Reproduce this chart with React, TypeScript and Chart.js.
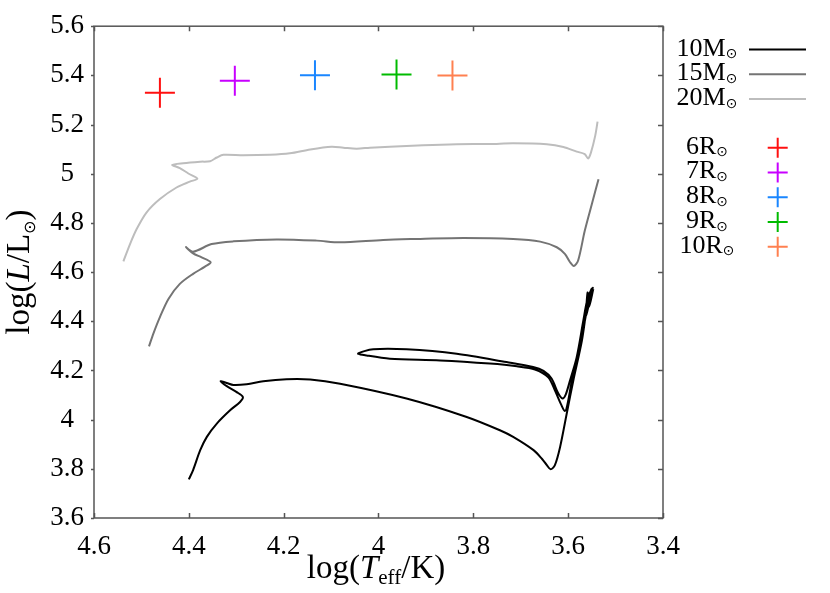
import React, { useEffect, useRef } from 'react';
import { Chart, registerables } from 'chart.js';

Chart.register(...registerables);

// ---- data (log Teff, log L) ----
const track10LogT = [4.400, 4.391, 4.376, 4.362, 4.341, 4.313, 4.292, 4.286, 4.299, 4.320, 4.333, 4.320, 4.306, 4.278, 4.243, 4.194, 4.144, 4.081, 3.941, 3.814, 3.744, 3.716, 3.673, 3.655, 3.645, 3.637, 3.628, 3.617, 3.603, 3.589, 3.571, 3.558, 3.548, 3.556, 3.562, 3.575, 3.592, 3.602, 3.607, 3.615, 3.628, 3.642, 3.670, 3.708, 3.765, 3.870, 3.976, 4.025, 4.043, 4.011, 3.941, 3.835, 3.730, 3.674, 3.652, 3.635, 3.621, 3.612, 3.605, 3.596, 3.582, 3.568, 3.560, 3.550, 3.562, 3.559, 3.556, 3.547];
const track10LogL = [3.757, 3.795, 3.876, 3.930, 3.984, 4.038, 4.072, 4.092, 4.112, 4.136, 4.156, 4.149, 4.141, 4.144, 4.156, 4.164, 4.163, 4.146, 4.086, 4.011, 3.957, 3.930, 3.876, 3.840, 3.815, 3.798, 3.815, 3.889, 4.025, 4.160, 4.322, 4.484, 4.536, 4.501, 4.430, 4.302, 4.160, 4.058, 4.035, 4.062, 4.119, 4.172, 4.204, 4.217, 4.228, 4.241, 4.248, 4.261, 4.269, 4.286, 4.286, 4.268, 4.234, 4.214, 4.198, 4.167, 4.107, 4.086, 4.103, 4.160, 4.254, 4.403, 4.484, 4.533, 4.424, 4.517, 4.460, 4.531];

const track15LogT = [4.484, 4.475, 4.461, 4.443, 4.419, 4.391, 4.366, 4.354, 4.373, 4.391, 4.406, 4.391, 4.352, 4.306, 4.215, 4.130, 4.081, 3.990, 3.912, 3.821, 3.716, 3.659, 3.624, 3.607, 3.596, 3.588, 3.579, 3.565, 3.550, 3.536];
const track15LogL = [4.298, 4.349, 4.417, 4.491, 4.552, 4.593, 4.622, 4.640, 4.660, 4.676, 4.702, 4.683, 4.714, 4.725, 4.733, 4.728, 4.721, 4.731, 4.735, 4.739, 4.735, 4.724, 4.701, 4.674, 4.640, 4.625, 4.647, 4.768, 4.877, 4.978];

const track20LogT = [4.538, 4.524, 4.510, 4.489, 4.461, 4.426, 4.398, 4.382, 4.401, 4.419, 4.435, 4.412, 4.376, 4.355, 4.341, 4.327, 4.285, 4.229, 4.187, 4.144, 4.099, 4.074, 4.046, 4.018, 3.976, 3.906, 3.835, 3.765, 3.716, 3.645, 3.610, 3.582, 3.565, 3.558, 3.552, 3.543, 3.538];
const track20LogL = [4.644, 4.714, 4.775, 4.843, 4.897, 4.944, 4.968, 4.980, 5.001, 5.023, 5.036, 5.043, 5.049, 5.051, 5.066, 5.077, 5.075, 5.077, 5.083, 5.099, 5.110, 5.106, 5.102, 5.106, 5.110, 5.116, 5.120, 5.121, 5.124, 5.120, 5.109, 5.090, 5.080, 5.062, 5.086, 5.154, 5.212];

const massLabels = ['10', '15', '20'];
const massColors = ['#000000', '#747474', '#bdbdbd'];

const radiusLabels = ['6', '7', '8', '9', '10'];
const radiusLogT = [4.461, 4.303, 4.134, 3.962, 3.844];
const radiusLogL = [5.329, 5.378, 5.401, 5.404, 5.400];
const radiusColors = ['#ff1010', '#c800ff', '#1a86ff', '#00bb00', '#ff8050'];

const xTickValues = [4.6, 4.4, 4.2, 4.0, 3.8, 3.6, 3.4];
const yTickValues = [3.6, 3.8, 4.0, 4.2, 4.4, 4.6, 4.8, 5.0, 5.2, 5.4, 5.6];

// ---- styling ----
const SERIF = "'Liberation Serif', serif";
const SYM = "'DejaVu Sans', sans-serif";
const SUN = '\u2299';

Chart.defaults.font.family = SERIF;

type Run = { t: string; font: string; dy?: number; mid?: boolean };

function runsWidth(ctx: CanvasRenderingContext2D, runs: Run[]) {
  let w = 0;
  for (const r of runs) {
    ctx.font = r.font;
    w += ctx.measureText(r.t).width;
  }
  return w;
}

function drawRuns(ctx: CanvasRenderingContext2D, runs: Run[], cx: number, baseY: number) {
  let x = cx - runsWidth(ctx, runs) / 2;
  ctx.textAlign = 'left';
  for (const r of runs) {
    ctx.font = r.font;
    ctx.textBaseline = r.mid ? 'middle' : 'alphabetic';
    ctx.fillText(r.t, x, baseY + (r.dy || 0));
    x += ctx.measureText(r.t).width;
  }
}

const fmt = (v: number | string) => String(Number((+v).toFixed(1)));

const decorPlugin = {
  id: 'decor',
  afterDraw(chart: any) {
    const ctx: CanvasRenderingContext2D = chart.ctx;
    const { left, right, top, bottom } = chart.chartArea;
    const xs = chart.scales.x;
    const ys = chart.scales.y;
    ctx.save();
    // frame
    ctx.strokeStyle = '#555555';
    ctx.lineWidth = 1.5;
    ctx.strokeRect(left, top, right - left, bottom - top);
    // ticks
    ctx.beginPath();
    for (const v of xTickValues) {
      const px = Math.round(xs.getPixelForValue(v)) + 0.5;
      ctx.moveTo(px, bottom);
      ctx.lineTo(px, bottom - 5);
      ctx.moveTo(px, top);
      ctx.lineTo(px, top + 5);
    }
    for (const v of yTickValues) {
      const py = Math.round(ys.getPixelForValue(v)) + 0.5;
      ctx.moveTo(left - 3, py);
      ctx.lineTo(left, py);
      ctx.moveTo(right, py);
      ctx.lineTo(right - 5, py);
    }
    ctx.stroke();

    // axis titles
    ctx.fillStyle = '#000';
    const tf = `33px ${SERIF}`;
    const tfi = `italic 33px ${SERIF}`;
    drawRuns(ctx, [
      { t: 'log(', font: tf },
      { t: 'T', font: tfi },
      { t: 'eff', font: `21px ${SERIF}`, dy: 6 },
      { t: '/K)', font: tf },
    ], 376, 578);

    ctx.save();
    ctx.translate(29, (top + bottom) / 2);
    ctx.rotate(-Math.PI / 2);
    drawRuns(ctx, [
      { t: 'log(', font: tf },
      { t: 'L', font: tfi },
      { t: '/L', font: tf },
      { t: SUN, font: `16px ${SYM}`, dy: 2, mid: true },
      { t: ')', font: tf },
    ], 0, 0);
    ctx.restore();

    // legend: mass tracks
    const legCx = 707;
    massLabels.forEach((m, i) => {
      const lineY = 49.5 + i * 24.7;
      ctx.fillStyle = '#000';
      drawRuns(ctx, [
        { t: `${m}M`, font: `26px ${SERIF}` },
        { t: SUN, font: `14px ${SYM}`, dy: -1, mid: true },
      ], legCx, lineY + 6);
      ctx.strokeStyle = massColors[i];
      ctx.lineWidth = 2;
      ctx.beginPath();
      ctx.moveTo(749, lineY);
      ctx.lineTo(806, lineY);
      ctx.stroke();
    });
    // legend: radii
    radiusLabels.forEach((r, i) => {
      const cy = 147.7 + i * 24.75;
      ctx.fillStyle = '#000';
      drawRuns(ctx, [
        { t: `${r}R`, font: `26px ${SERIF}` },
        { t: SUN, font: `14px ${SYM}`, dy: -1, mid: true },
      ], legCx, cy + 6);
      ctx.strokeStyle = radiusColors[i];
      ctx.lineWidth = 2;
      ctx.beginPath();
      ctx.moveTo(767.7, cy);
      ctx.lineTo(787.7, cy);
      ctx.moveTo(777.7, cy - 10);
      ctx.lineTo(777.7, cy + 10);
      ctx.stroke();
    });
    ctx.restore();
  },
};

export default function App() {
  const canvasRef = useRef<HTMLCanvasElement | null>(null);

  useEffect(() => {
    const canvas = canvasRef.current;
    if (!canvas) return;
    const toPts = (xs: number[], ys: number[]) => xs.map((x, i) => ({ x, y: ys[i] }));
    const tracks = [
      toPts(track10LogT, track10LogL),
      toPts(track15LogT, track15LogL),
      toPts(track20LogT, track20LogL),
    ];
    const trackSets = tracks.map((d, i) => ({
      label: `${massLabels[i]}M`,
      data: d,
      showLine: true,
      borderColor: massColors[i],
      backgroundColor: massColors[i],
      borderWidth: 2,
      pointRadius: 0,
      pointHoverRadius: 0,
      tension: 0.3,
      fill: false,
    }));
    const crossSets = radiusLabels.map((r, i) => ({
      label: `${r}R`,
      data: [{ x: radiusLogT[i], y: radiusLogL[i] }],
      showLine: false,
      pointStyle: 'cross',
      pointRadius: 15,
      pointHoverRadius: 15,
      borderColor: radiusColors[i],
      backgroundColor: radiusColors[i],
      borderWidth: 2,
      pointBorderWidth: 2,
    }));

    const tickFont = { family: SERIF, size: 27, style: 'normal' as const, weight: 'normal' as const };

    const chart = new Chart(canvas, {
      type: 'scatter',
      data: { datasets: [...trackSets, ...crossSets] as any },
      options: {
        animation: false,
        responsive: false,
        maintainAspectRatio: false,
        events: [],
        font: { family: SERIF },
        layout: { padding: { top: 25, right: 167, left: 0, bottom: 0 } },
        plugins: { legend: { display: false }, tooltip: { enabled: false } },
        scales: {
          x: {
            type: 'linear',
            min: 3.4,
            max: 4.6,
            reverse: true,
            grid: { display: false, drawTicks: false },
            border: { display: false },
            ticks: {
              color: '#000',
              font: tickFont,
              padding: 13,
              maxRotation: 0,
              autoSkip: false,
              callback: (v: any) => fmt(v),
            },
            afterBuildTicks: (axis: any) => {
              axis.ticks = xTickValues.map((v) => ({ value: v }));
            },
            afterFit: (s: any) => {
              s.height = 75;
            },
          },
          y: {
            type: 'linear',
            min: 3.6,
            max: 5.6,
            grid: { display: false, drawTicks: false },
            border: { display: false },
            ticks: {
              color: '#000',
              font: tickFont,
              padding: 10,
              crossAlign: 'center',
              autoSkip: false,
              callback: (v: any) => fmt(v),
            },
            afterBuildTicks: (axis: any) => {
              axis.ticks = yTickValues.map((v) => ({ value: v }));
            },
            afterFit: (s: any) => {
              s.width = 94;
            },
          },
        },
      } as any,
      plugins: [decorPlugin],
    });
    return () => chart.destroy();
  }, []);

  return (
    <div style={{ position: 'absolute', left: 0, top: 0, width: 830, height: 593, background: '#fff' }}>
      <canvas ref={canvasRef} width={830} height={593} style={{ width: 830, height: 593, display: 'block' }} />
    </div>
  );
}
